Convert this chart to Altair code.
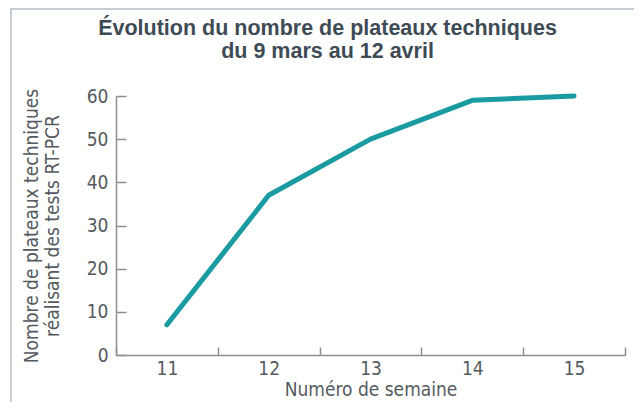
import altair as alt
import pandas as pd

weeks = ["11", "12", "13", "14", "15"]
plateaux = [7, 37, 50, 59, 60]

df = pd.DataFrame({"semaine": weeks, "plateaux": plateaux})

LABEL_FONT = "DejaVu Sans Condensed"
TITLE_FONT = "Liberation Sans"

line = alt.Chart(df).mark_line(color="#1a9aa1", strokeWidth=5, strokeCap="round", strokeJoin="round").encode(
    x=alt.X("semaine:O", sort=weeks, scale=alt.Scale(type="band", paddingInner=0, paddingOuter=0),
            axis=alt.Axis(title="Numéro de semaine", labelAngle=0, tickBand="extent",
                          tickSize={"expr": "-8"}, labelPadding=12, titlePadding=2)),
    y=alt.Y("plateaux:Q", scale=alt.Scale(domain=[0, 60], nice=False),
            axis=alt.Axis(title=["Nombre de plateaux techniques", "réalisant des tests RT-PCR"],
                          values=[0, 10, 20, 30, 40, 50, 60], grid=False,
                          tickSize={"expr": "-10"}, labelPadding=18, titlePadding=24)),
)

frame = alt.Chart(df).mark_rect(fill=None, stroke="#c6cdd5", strokeWidth=2, clip=False).encode(
    x=alt.value(-105), x2=alt.value(560), y=alt.value(-87), y2=alt.value(360)
).transform_filter(alt.datum.semaine == "11")

chart = alt.layer(frame, line).properties(
    width=509, height=259,
    autosize=alt.AutoSizeParams(type="none"),
    padding={"left": 108, "top": 88, "right": 9, "bottom": 47},
    background="white",
    title=alt.TitleParams(
        text=["Évolution du nombre de plateaux techniques", "du 9 mars au 12 avril"],
        font=TITLE_FONT, fontSize=21.5, fontWeight="bold", color="#3e4b54",
        anchor="middle", frame="group", dx=-43, offset=-54, lineHeight=23,
    ),
).configure_view(stroke=None).configure_axis(
    labelFont=LABEL_FONT, labelFontSize=19, labelColor="#555a5e",
    titleFont=LABEL_FONT, titleFontSize=19, titleFontWeight="normal", titleColor="#555a5e",
    domainColor="#8c8f92", tickColor="#8c8f92", domainWidth=1.5, tickWidth=1.5,
)

chart.save("out.html", embed_options={"renderer": "svg", "actions": False})
